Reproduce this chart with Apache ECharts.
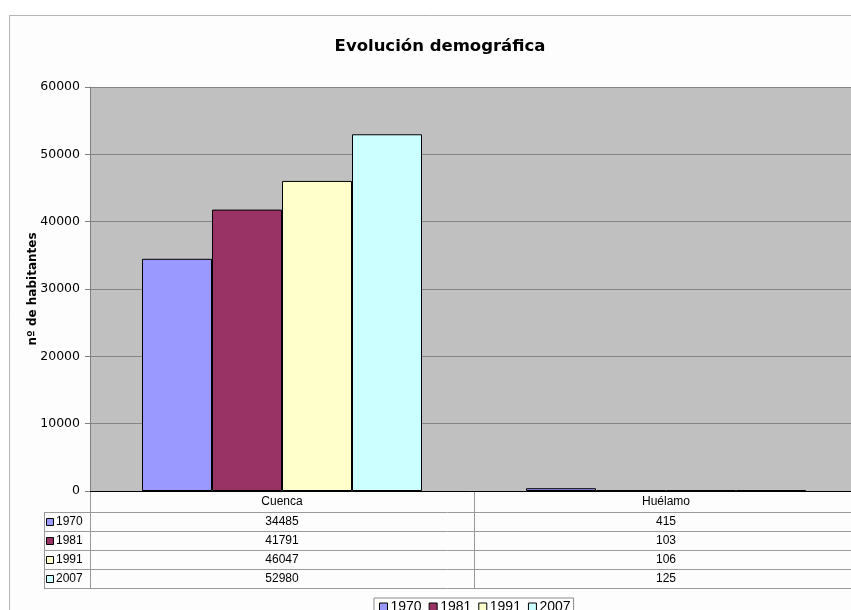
<!DOCTYPE html>
<html>
<head>
<meta charset="utf-8">
<script src="https://cdn.jsdelivr.net/npm/echarts@6/dist/echarts.min.js"></script>
<style>
  html, body { margin: 0; padding: 0; background: #ffffff; }
  #chart { width: 851px; height: 610px; }
</style>
</head>
<body>
<div id="chart"></div>
<script>
// Municipalities shown on the category axis
const categories = ['Cuenca', 'Huélamo'];
// Census years (one series per year)
const years = ['1970', '1981', '1991', '2007'];
// Inhabitants per municipality, one array per year
const pop1970 = [34485, 415];
const pop1981 = [41791, 103];
const pop1991 = [46047, 106];
const pop2007 = [52980, 125];
const seriesValues = [pop1970, pop1981, pop1991, pop2007];
// Y axis range and step
const yMin = 0, yMax = 60000, yStep = 10000;

const colors = ['#9999FF', '#993366', '#FFFFCC', '#CCFFFF'];
const sansTable = '"Liberation Sans", Arial, sans-serif';
const sansAxis = '"DejaVu Sans", Verdana, sans-serif';

const chart = echarts.init(document.getElementById('chart'), null, { renderer: 'canvas' });

const option = {
  animation: false,
  backgroundColor: '#ffffff',
  title: {
    text: 'Evolución demográfica',
    left: 435, top: 33, textAlign: 'center',
    textStyle: { fontFamily: sansAxis, fontWeight: 'bold', fontSize: 16.5, color: '#000' }
  },
  legend: {
    data: years,
    left: 374, top: 598,
    orient: 'horizontal',
    icon: 'rect',
    itemWidth: 8, itemHeight: 8, itemGap: 7,
    padding: [2, 3, 2, 5],
    borderColor: '#888', borderWidth: 1,
    backgroundColor: '#fff',
    itemStyle: { borderColor: '#000', borderWidth: 1 },
    textStyle: { fontFamily: sansTable, fontSize: 14, color: '#000', padding: [0, 0, 0, -2] }
  },
  grid: { left: 90, top: 87, width: 768, height: 404, containLabel: false,
          outerBoundsMode: 'none',
          show: true, backgroundColor: '#C0C0C0', borderWidth: 0 },
  xAxis: {
    type: 'category',
    data: categories,
    axisLine: { show: true, lineStyle: { color: '#000', width: 1 } },
    axisTick: { show: false },
    axisLabel: { margin: 5, fontFamily: sansTable, fontSize: 12, color: '#000' }
  },
  yAxis: {
    type: 'value',
    min: yMin, max: yMax, interval: yStep,
    name: 'nº de habitantes',
    nameLocation: 'middle',
    nameGap: 51,
    nameMoveOverlap: false,
    nameTextStyle: { fontFamily: sansAxis, fontWeight: 'bold', fontSize: 12, color: '#000' },
    axisLine: { show: true, lineStyle: { color: '#808080' } },
    axisTick: { show: true, length: 5, lineStyle: { color: '#808080' } },
    axisLabel: { margin: 10, fontFamily: sansAxis, fontSize: 12.5, color: '#000',
                 formatter: v => String(v) },
    splitLine: { show: true, lineStyle: { color: '#858585', width: 1 } }
  },
  series: years.map((y, i) => ({
    name: y,
    type: 'bar',
    data: seriesValues[i],
    barGap: '0%',
    barCategoryGap: '27.08%',
    itemStyle: { color: colors[i], borderColor: '#000', borderWidth: 1 }
  }))
};

chart.setOption(option);

// Data table under the plot, built from the same arrays
function buildTable() {
  const lineColor = '#9a9a9a';
  const gridLeft = 90, axisY = 491, tableLeft = 44, tableRight = 851;
  const headerBottom = 512;
  const rowH = 19;
  const els = [];
  // outer chart-area frame
  els.push({ type: 'rect', z: -10, silent: true,
    shape: { x: 9.5, y: 15.5, width: 900, height: 700 },
    style: { fill: '#fdfdfd', stroke: '#b4b4b4', lineWidth: 1 } });

  const centers = categories.map((c, i) => chart.convertToPixel({ xAxisIndex: 0 }, i));
  const catW = centers.length > 1 ? centers[1] - centers[0] : 384;
  const bottom = headerBottom + rowH * years.length;

  // horizontal rules
  for (let r = 0; r <= years.length; r++) {
    const y = Math.round(headerBottom + r * rowH) + 0.5;
    els.push({ type: 'line', silent: true,
      shape: { x1: tableLeft, y1: y, x2: tableRight, y2: y },
      style: { stroke: lineColor, lineWidth: 1 } });
  }
  // vertical rules: left label column and category dividers
  els.push({ type: 'line', silent: true,
    shape: { x1: tableLeft + 0.5, y1: headerBottom, x2: tableLeft + 0.5, y2: bottom },
    style: { stroke: lineColor, lineWidth: 1 } });
  for (let i = 0; i <= categories.length; i++) {
    const x = Math.round(gridLeft + i * catW) + 0.5;
    els.push({ type: 'line', silent: true,
      shape: { x1: x, y1: axisY, x2: x, y2: bottom },
      style: { stroke: lineColor, lineWidth: 1 } });
  }
  // row headers with colour keys, and values
  years.forEach((yr, r) => {
    const cy = headerBottom + r * rowH + rowH / 2 + 0.5;
    els.push({ type: 'rect', silent: true,
      shape: { x: 46.5, y: Math.round(cy - 4) + 0.5, width: 7, height: 7 },
      style: { fill: colors[r], stroke: '#000', lineWidth: 1 } });
    els.push({ type: 'text', silent: true,
      x: 56, y: cy,
      style: { text: yr, fontFamily: sansTable, fontSize: 12, fill: '#000',
               align: 'left', verticalAlign: 'middle' } });
    categories.forEach((c, i) => {
      els.push({ type: 'text', silent: true,
        x: centers[i], y: cy,
        style: { text: String(seriesValues[r][i]), fontFamily: sansTable, fontSize: 12,
                 fill: '#000', align: 'center', verticalAlign: 'middle' } });
    });
  });
  chart.setOption({ graphic: { elements: els } });
}
buildTable();
</script>
</body>
</html>
